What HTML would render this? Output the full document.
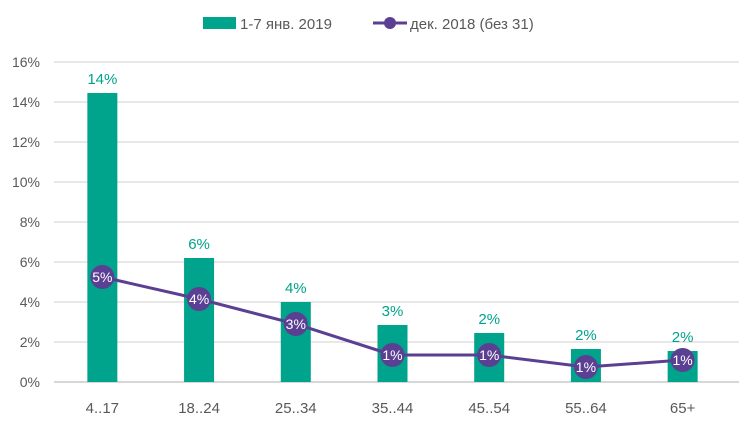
<!DOCTYPE html>
<html><head><meta charset="utf-8"><style>
body{margin:0;background:#fff;}
svg{font-family:"Liberation Sans",sans-serif;}
</style></head><body>
<svg id="chart" width="748" height="426">
<g id="grid"></g><g id="bars"></g><g id="line"></g><g id="labels"></g>
<g>
<rect x="203" y="17" width="33" height="12" fill="#00A38B"/>
<text x="240" y="29" font-size="15" fill="#595959">1-7 янв. 2019</text>
<line x1="373" y1="23" x2="407" y2="23" stroke="#5B3F92" stroke-width="3"/>
<circle cx="390" cy="23" r="6" fill="#5B3F92"/>
<text x="410" y="29" font-size="15" fill="#595959">дек. 2018 (без 31)</text>
</g>
</svg>
<script>
const categories=["4..17","18..24","25..34","35..44","45..54","55..64","65+"];
const barValues=[14.45,6.2,4.0,2.85,2.45,1.65,1.55];
const barLabels=["14%","6%","4%","3%","2%","2%","2%"];
const lineValues=[5.25,4.15,2.9,1.35,1.35,0.75,1.1];
const lineLabels=["5%","4%","3%","1%","1%","1%","1%"];
const yTicks=[0,2,4,6,8,10,12,14,16];
const NS="http://www.w3.org/2000/svg";
const x0=54,x1=731,y0=382,yTop=62;
const y=v=>y0-(v/16)*(y0-yTop);
const step=(x1-x0)/categories.length;
const cx=i=>x0+step*(i+0.5);
function mk(tag,attrs,parent,txt){const e=document.createElementNS(NS,tag);for(const k in attrs)e.setAttribute(k,attrs[k]);if(txt!==undefined)e.textContent=txt;parent.appendChild(e);return e;}
const grid=document.getElementById('grid'),bars=document.getElementById('bars'),line=document.getElementById('line'),labels=document.getElementById('labels');
yTicks.forEach(t=>{
 const l=mk('line',{x1:x0,x2:739,y1:y(t),y2:y(t),stroke:t===0?'#bfbfbf':'#d9d9d9','stroke-width':1.3},grid);
 
 
 const tx=mk('text',{x:40,y:y(t)+5,'text-anchor':'end','font-size':14,fill:'#595959'},grid,t+'%');
 
 
});
categories.forEach((c,i)=>{
 const r=mk('rect',{x:cx(i)-15,y:y(barValues[i]),width:30,height:y0-y(barValues[i]),fill:'#00A38B'},bars);
 
 
 const bl=mk('text',{x:cx(i),y:y(barValues[i])-9,'text-anchor':'middle','font-size':15,fill:'#00A38B'},labels,barLabels[i]);
 
 
 const xl=mk('text',{x:cx(i),y:413,'text-anchor':'middle','font-size':15,fill:'#595959'},labels,c);
 
 
});
const pl=mk('polyline',{points:lineValues.map((v,i)=>cx(i)+','+y(v)).join(' '),fill:'none',stroke:'#5B3F92','stroke-width':3},line);


lineValues.forEach((v,i)=>{
 const c=mk('circle',{cx:cx(i),cy:y(v),r:12,fill:'#5B3F92'},line);
 
 
 const t=mk('text',{x:cx(i),y:y(v)+5,'text-anchor':'middle','font-size':14,fill:'#fff'},line,lineLabels[i]);
 
 
});
</script>
</body></html>
